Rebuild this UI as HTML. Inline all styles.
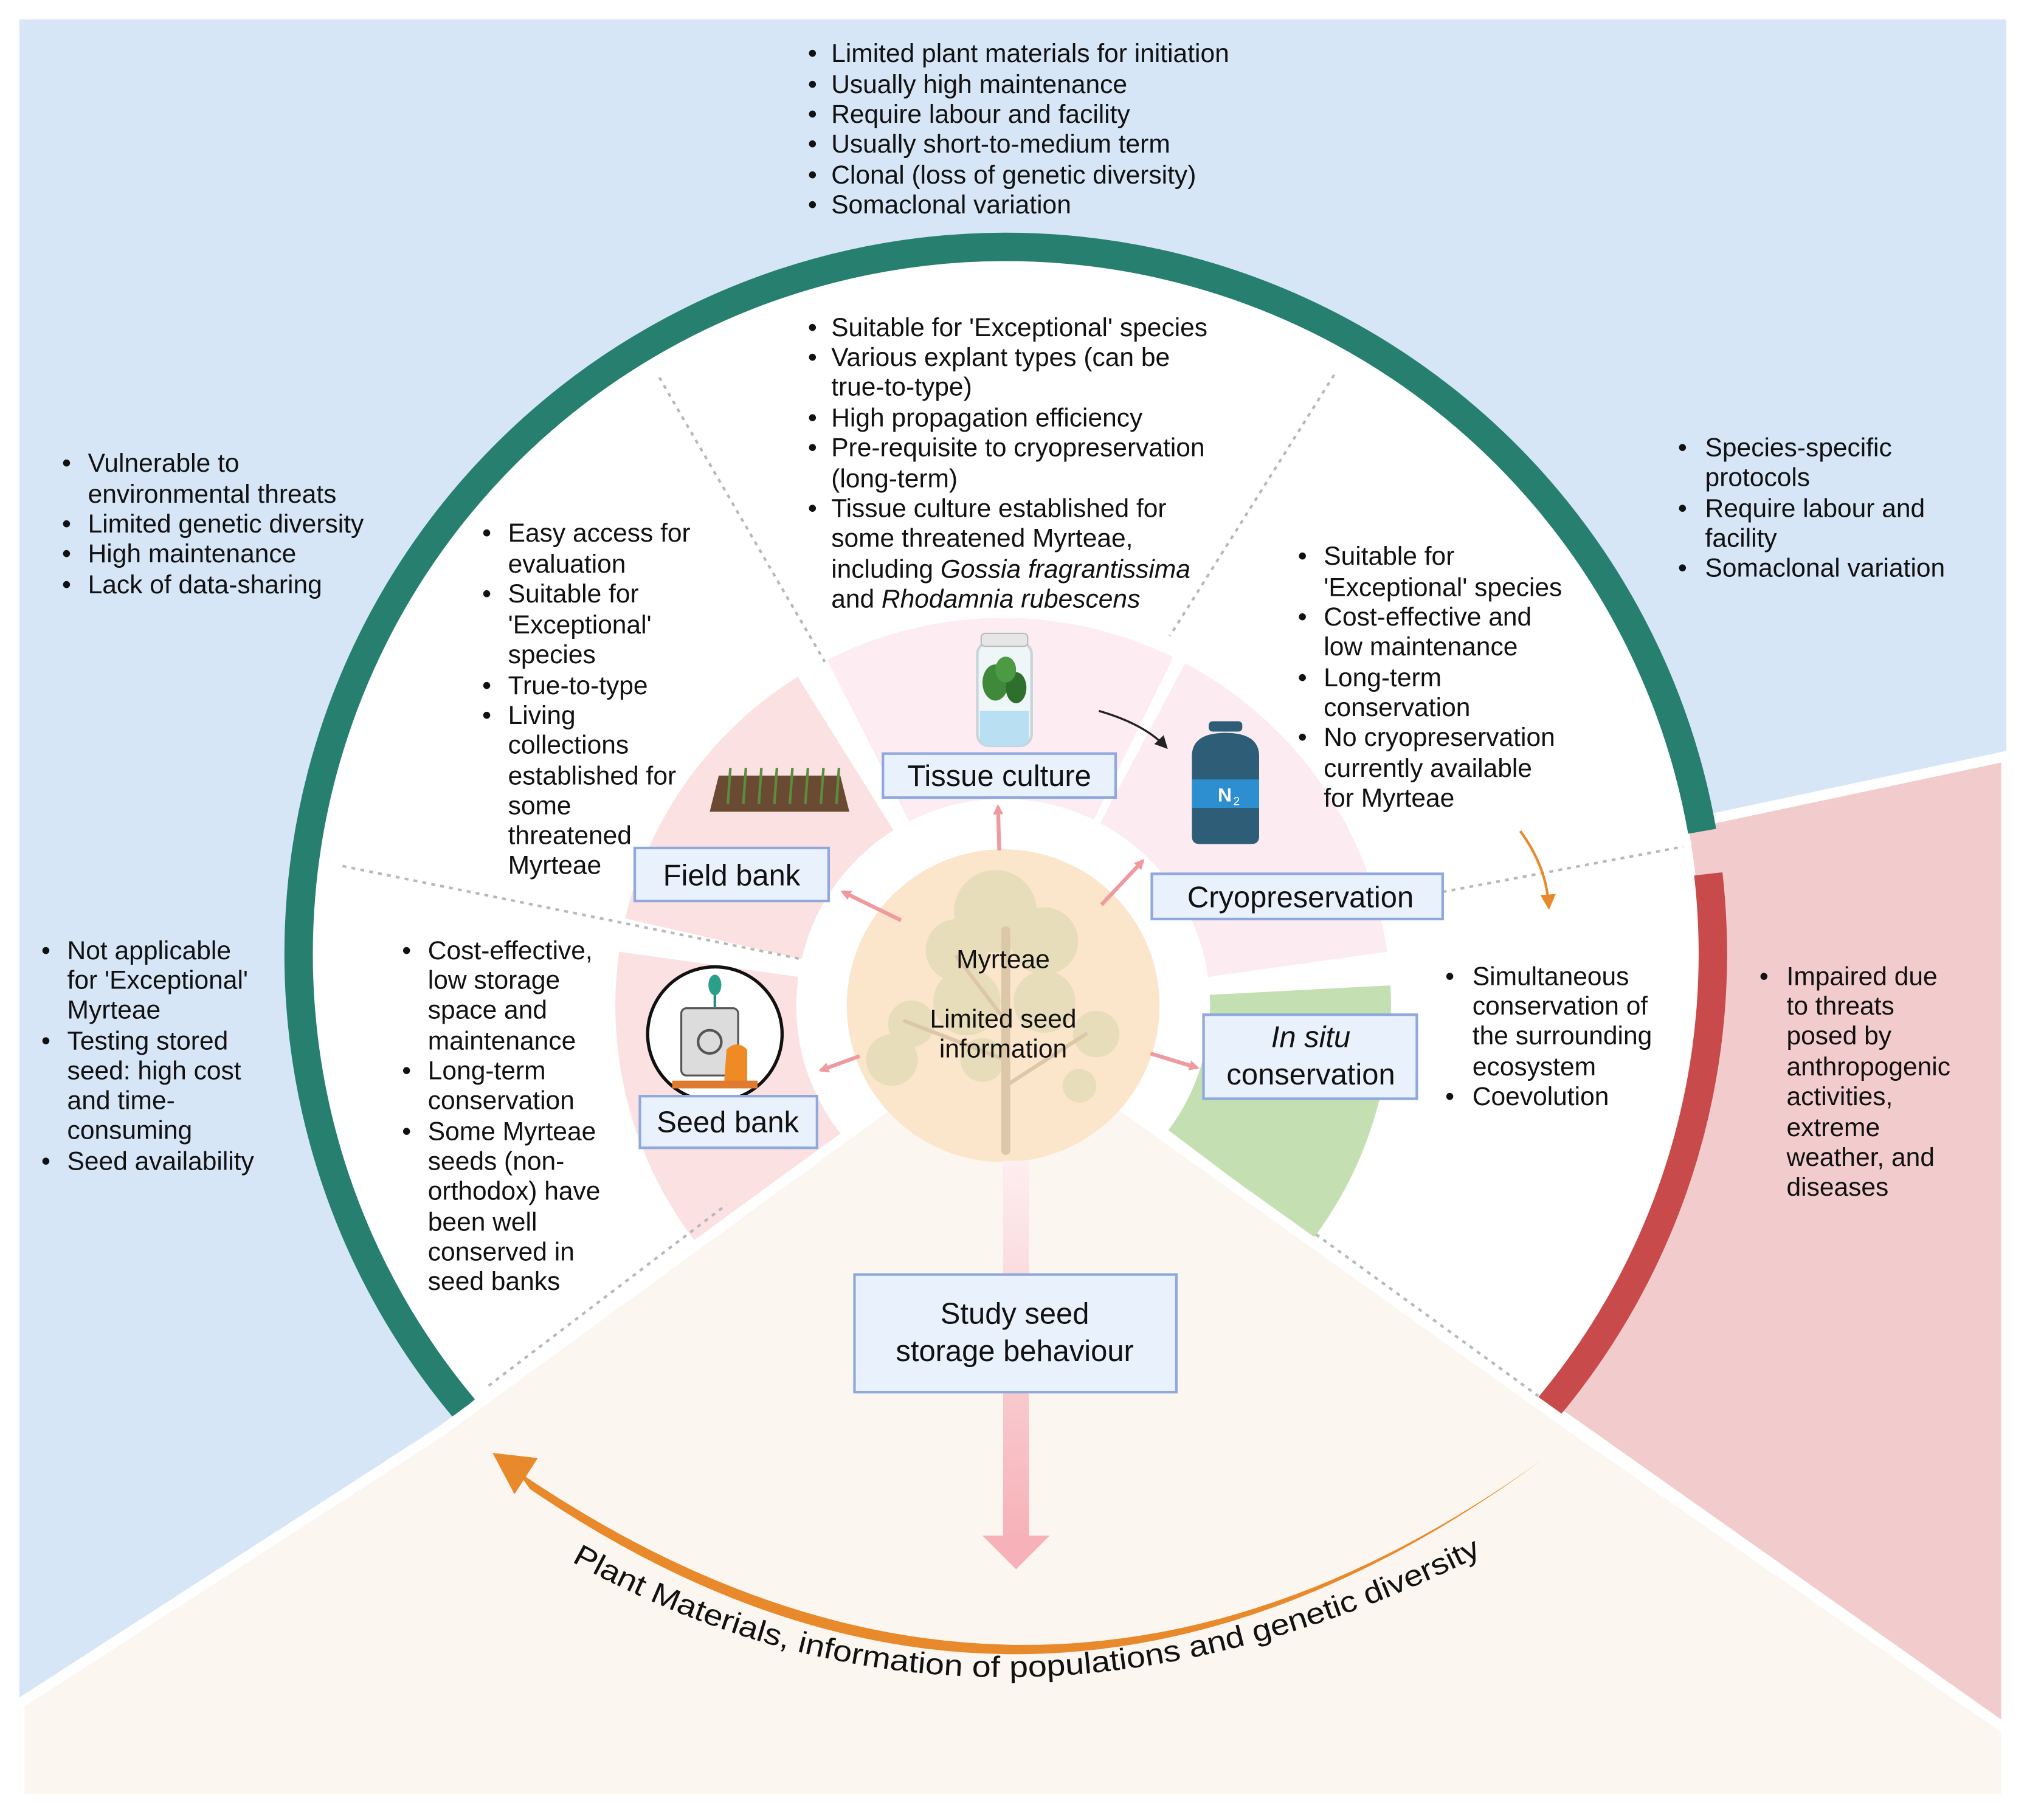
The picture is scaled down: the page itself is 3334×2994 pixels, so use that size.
<!DOCTYPE html>
<html><head><meta charset="utf-8"><style>
html,body{margin:0;padding:0;background:#fff;overflow:hidden;width:3334px;height:2994px}
svg{display:block}
.t{font-family:"Liberation Sans",sans-serif;font-size:20px;fill:#111}
.lab{font-family:"Liberation Sans",sans-serif;font-size:23px;fill:#111}
</style></head><body>
<svg width="3334" height="2994" viewBox="0 0 1568 1408" preserveAspectRatio="none" xmlns="http://www.w3.org/2000/svg">
<defs>
<linearGradient id="dg" x1="0" y1="0" x2="0" y2="1"><stop offset="0" stop-color="#fdeef0"/><stop offset="1" stop-color="#f6b2b8"/></linearGradient>
<marker id="pa" markerWidth="8" markerHeight="8" refX="6" refY="4" orient="auto" markerUnits="userSpaceOnUse"><path d="M0,0 L8,4 L0,8 Z" fill="#ef9a9f"/></marker>
<marker id="ka" markerWidth="10" markerHeight="10" refX="8" refY="5" orient="auto" markerUnits="userSpaceOnUse"><path d="M0,0 L10,5 L0,10 Z" fill="#222"/></marker>
<marker id="oa" markerWidth="12" markerHeight="12" refX="8" refY="6" orient="auto" markerUnits="userSpaceOnUse"><path d="M0,0 L12,6 L0,12 Z" fill="#e8892b"/></marker>
</defs>
<rect x="0" y="0" width="1568" height="1408" fill="#fff"/>
<rect x="15" y="15" width="1537" height="1377" fill="#d6e6f7"/>
<polygon points="776,750 1552,585 1552,1338 776,790" fill="#f2cccc" stroke="#fff" stroke-width="8"/>
<circle cx="778" cy="738" r="537" fill="#fff"/>
<circle cx="778" cy="738" r="547" fill="none" stroke="#27806f" stroke-width="22" stroke-dasharray="2004.9 9999" transform="rotate(140 778 738)"/>
<circle cx="778" cy="738" r="547" fill="none" stroke="#c94a4a" stroke-width="22" stroke-dasharray="444 9999" transform="rotate(-6.5 778 738)"/>
<g fill="none" stroke-width="140">
<circle cx="776" cy="778" r="230" stroke="#fbe1e1" stroke-dasharray="204.7 9999" transform="rotate(137 776 778)"/>
<circle cx="776" cy="778" r="230" stroke="#fbe1e1" stroke-dasharray="180.6 9999" transform="rotate(193 776 778)"/>
<circle cx="776" cy="778" r="230" stroke="#fdecf2" stroke-dasharray="212.7 9999" transform="rotate(243 776 778)"/>
<circle cx="776" cy="778" r="230" stroke="#fdebf2" stroke-dasharray="216.8 9999" transform="rotate(298 776 778)"/>
<circle cx="776" cy="778" r="230" stroke="#c4e0b2" stroke-dasharray="160.6 9999" transform="rotate(-3 776 778)"/>
</g>
<polygon points="776,790 340,1108 15,1318 15,1392 1552,1392 1552,1338 1210,1100" fill="#fbf6ef" stroke="#fff" stroke-width="8"/>
<g stroke="#b8b8b8" stroke-width="2" stroke-dasharray="3 4" fill="none">
<line x1="510" y1="292" x2="638" y2="512"/>
<line x1="1032" y1="290" x2="905" y2="492"/>
<line x1="265" y1="670" x2="620" y2="742"/>
<line x1="1116" y1="690" x2="1302" y2="655"/>
<line x1="378" y1="1072" x2="562" y2="932"/>
<line x1="1018" y1="955" x2="1190" y2="1080"/>
</g>
<circle cx="776" cy="778" r="121" fill="#fbe6cc"/>
<g fill="#e2dbb4" opacity="0.75">
<circle cx="770" cy="705" r="32"/><circle cx="740" cy="735" r="24"/><circle cx="808" cy="728" r="26"/>
<circle cx="748" cy="775" r="26"/><circle cx="808" cy="775" r="24"/><circle cx="705" cy="792" r="18"/>
<circle cx="690" cy="820" r="20"/><circle cx="848" cy="800" r="18"/><circle cx="835" cy="840" r="13"/><circle cx="760" cy="820" r="17"/>
</g>
<g stroke="#dcc8a8" fill="none" stroke-linecap="round">
<line x1="778" y1="890" x2="778" y2="720" stroke-width="7"/>
<line x1="778" y1="820" x2="700" y2="790" stroke-width="3"/>
<line x1="778" y1="840" x2="840" y2="800" stroke-width="3"/>
<line x1="778" y1="790" x2="740" y2="740" stroke-width="3"/>
</g>
<text class="t" x="776" y="749" text-anchor="middle">Myrteae</text>
<text class="t" x="776" y="795" text-anchor="middle">Limited seed</text>
<text class="t" x="776" y="818" text-anchor="middle">information</text>
<g stroke="#ef9a9f" stroke-width="3" marker-end="url(#pa)">
<line x1="773" y1="658" x2="772" y2="624"/>
<line x1="697" y1="712" x2="652" y2="690"/>
<line x1="852" y1="700" x2="884" y2="666"/>
<line x1="665" y1="817" x2="635" y2="828"/>
<line x1="890" y1="815" x2="926" y2="826"/>
</g>
<rect x="776" y="898" width="20" height="292" fill="url(#dg)"/>
<polygon points="760,1188 812,1188 786,1214" fill="#f6b2b8"/>
<g>
<rect x="756" y="497" width="42" height="80" rx="9" fill="#eef6f8" stroke="#c8d4d8" stroke-width="2"/>
<rect x="759" y="490" width="36" height="10" rx="3" fill="#e6e6e6" stroke="#bbb"/>
<path d="M758,550 h38 v20 q0,7 -8,7 h-22 q-8,0 -8,-7 z" fill="#b8e0f2"/>
<ellipse cx="770" cy="528" rx="10" ry="14" fill="#3f8a3a"/><ellipse cx="786" cy="532" rx="8" ry="12" fill="#2f6f2e"/><ellipse cx="778" cy="518" rx="8" ry="10" fill="#4c9a44"/>
</g>
<g>
<polygon points="549,628 657,628 650,600 556,600" fill="#6b4a34"/>
<g stroke="#5a8d3c" stroke-width="2">
<line x1="563" y1="622" x2="565" y2="594"/><line x1="575" y1="622" x2="577" y2="594"/><line x1="587" y1="622" x2="589" y2="594"/><line x1="599" y1="622" x2="601" y2="594"/><line x1="611" y1="622" x2="613" y2="594"/><line x1="623" y1="622" x2="625" y2="594"/><line x1="635" y1="622" x2="637" y2="594"/><line x1="647" y1="622" x2="649" y2="594"/>
</g>
</g>
<g>
<rect x="935" y="558" width="26" height="8" rx="3" fill="#2e5d78"/>
<path d="M922,585 q0,-18 26,-18 q26,0 26,18 v62 q0,6 -6,6 h-40 q-6,0 -6,-6 z" fill="#2e5d78"/>
<rect x="922" y="603" width="52" height="22" fill="#2d8fcf"/>
<text x="942" y="620" font-family="Liberation Sans,sans-serif" font-size="15" font-weight="bold" fill="#fff">N</text><text x="954" y="623" font-family="Liberation Sans,sans-serif" font-size="9" fill="#fff">2</text>
</g>
<g>
<circle cx="553" cy="800" r="52" fill="#fff" stroke="#111" stroke-width="2.5"/>
<rect x="527" y="780" width="44" height="52" rx="4" fill="#dcdcdc" stroke="#555" stroke-width="1.5"/>
<circle cx="549" cy="806" r="9" fill="none" stroke="#555" stroke-width="2"/>
<path d="M562,812 q8,-8 16,0 v28 h-18 z" fill="#f08a24"/>
<rect x="520" y="836" width="66" height="6" fill="#e07a30"/>
<line x1="553" y1="780" x2="553" y2="766" stroke="#2a8a7a" stroke-width="2"/>
<ellipse cx="553" cy="762" rx="5" ry="8" fill="#2aa08a"/>
</g>
<path d="M850,550 Q885,560 902,578" fill="none" stroke="#222" stroke-width="1.6" marker-end="url(#ka)"/>
<path d="M1176,643 Q1196,670 1198,700" fill="none" stroke="#e8892b" stroke-width="2" marker-end="url(#oa)"/>
<path d="M1192,1130 Q800,1418 410,1152 L400,1138 Q800,1411 1192,1130 Z" fill="#e8892b"/>
<polygon points="381,1124 416,1128 398,1156" fill="#e8892b"/>
<path id="cp" d="M442,1208 Q790,1400 1190,1180" fill="none"/>
<text font-family="Liberation Sans,sans-serif" font-size="23" fill="#111"><textPath href="#cp" textLength="735" lengthAdjust="spacingAndGlyphs">Plant Materials, information of populations and genetic diversity</textPath></text>
<g fill="#e9f1fc" stroke="#8fa9dd" stroke-width="2">
<rect x="683" y="583" width="180" height="34"/>
<rect x="491" y="656" width="150" height="41"/>
<rect x="891" y="676" width="225" height="35"/>
<rect x="931" y="785" width="165" height="65"/>
<rect x="495" y="848" width="137" height="40"/>
<rect x="661" y="986" width="249" height="91"/>
</g>
<text class="lab" x="773" y="608" text-anchor="middle">Tissue culture</text>
<text class="lab" x="566" y="685" text-anchor="middle">Field bank</text>
<text class="lab" x="1006" y="702" text-anchor="middle">Cryopreservation</text>
<text class="lab" x="1014" y="810" text-anchor="middle" font-style="italic">In situ</text>
<text class="lab" x="1014" y="839" text-anchor="middle">conservation</text>
<text class="lab" x="563" y="876" text-anchor="middle">Seed bank</text>
<text class="lab" x="785" y="1024" text-anchor="middle">Study seed</text>
<text class="lab" x="785" y="1053" text-anchor="middle">storage behaviour</text>
<g class="t">
<text x="625" y="48">•</text><text x="643" y="48">Limited plant materials for initiation</text>
<text x="625" y="72">•</text><text x="643" y="72">Usually high maintenance</text>
<text x="625" y="95">•</text><text x="643" y="95">Require labour and facility</text>
<text x="625" y="118">•</text><text x="643" y="118">Usually short-to-medium term</text>
<text x="625" y="142">•</text><text x="643" y="142">Clonal  (loss of genetic diversity)</text>
<text x="625" y="165">•</text><text x="643" y="165">Somaclonal variation</text>
</g>
<g class="t">
<text x="625" y="260">•</text><text x="643" y="260">Suitable for 'Exceptional' species</text>
<text x="625" y="283">•</text><text x="643" y="283">Various explant types (can be</text>
<text x="643" y="306">true-to-type)</text>
<text x="625" y="330">•</text><text x="643" y="330">High propagation efficiency</text>
<text x="625" y="353">•</text><text x="643" y="353">Pre-requisite to cryopreservation</text>
<text x="643" y="377">(long-term)</text>
<text x="625" y="400">•</text><text x="643" y="400">Tissue culture  established for</text>
<text x="643" y="423">some threatened Myrteae,</text>
<text x="643" y="447">including <tspan font-style="italic">Gossia fragrantissima</tspan></text>
<text x="643" y="470">and <tspan font-style="italic">Rhodamnia rubescens</tspan></text>
</g>
<g class="t">
<text x="48" y="365">•</text><text x="68" y="365">Vulnerable to</text>
<text x="68" y="389">environmental threats</text>
<text x="48" y="412">•</text><text x="68" y="412">Limited genetic diversity</text>
<text x="48" y="435">•</text><text x="68" y="435">High maintenance</text>
<text x="48" y="459">•</text><text x="68" y="459">Lack of data-sharing</text>
</g>
<g class="t">
<text x="373" y="419">•</text><text x="393" y="419">Easy access for</text>
<text x="393" y="443">evaluation</text>
<text x="373" y="466">•</text><text x="393" y="466">Suitable for</text>
<text x="393" y="490">'Exceptional'</text>
<text x="393" y="513">species</text>
<text x="373" y="537">•</text><text x="393" y="537">True-to-type</text>
<text x="373" y="560">•</text><text x="393" y="560">Living</text>
<text x="393" y="583">collections</text>
<text x="393" y="607">established for</text>
<text x="393" y="630">some</text>
<text x="393" y="653">threatened</text>
<text x="393" y="676">Myrteae</text>
</g>
<g class="t">
<text x="1004" y="437">•</text><text x="1024" y="437">Suitable for</text>
<text x="1024" y="461">'Exceptional' species</text>
<text x="1004" y="484">•</text><text x="1024" y="484">Cost-effective and</text>
<text x="1024" y="507">low maintenance</text>
<text x="1004" y="531">•</text><text x="1024" y="531">Long-term</text>
<text x="1024" y="554">conservation</text>
<text x="1004" y="577">•</text><text x="1024" y="577">No cryopreservation</text>
<text x="1024" y="601">currently available</text>
<text x="1024" y="624">for Myrteae</text>
</g>
<g class="t">
<text x="1298" y="353">•</text><text x="1319" y="353">Species-specific</text>
<text x="1319" y="376">protocols</text>
<text x="1298" y="400">•</text><text x="1319" y="400">Require labour and</text>
<text x="1319" y="423">facility</text>
<text x="1298" y="446">•</text><text x="1319" y="446">Somaclonal variation</text>
</g>
<g class="t">
<text x="32" y="742">•</text><text x="52" y="742">Not applicable</text>
<text x="52" y="765">for 'Exceptional'</text>
<text x="52" y="788">Myrteae</text>
<text x="32" y="812">•</text><text x="52" y="812">Testing stored</text>
<text x="52" y="835">seed: high cost</text>
<text x="52" y="858">and time-</text>
<text x="52" y="881">consuming</text>
<text x="32" y="905">•</text><text x="52" y="905">Seed availability</text>
</g>
<g class="t">
<text x="311" y="742">•</text><text x="331" y="742">Cost-effective,</text>
<text x="331" y="765">low storage</text>
<text x="331" y="788">space and</text>
<text x="331" y="812">maintenance</text>
<text x="311" y="835">•</text><text x="331" y="835">Long-term</text>
<text x="331" y="858">conservation</text>
<text x="311" y="882">•</text><text x="331" y="882">Some Myrteae</text>
<text x="331" y="905">seeds (non-</text>
<text x="331" y="928">orthodox) have</text>
<text x="331" y="952">been well</text>
<text x="331" y="975">conserved in</text>
<text x="331" y="998">seed banks</text>
</g>
<g class="t">
<text x="1118" y="762">•</text><text x="1139" y="762">Simultaneous</text>
<text x="1139" y="785">conservation of</text>
<text x="1139" y="808">the surrounding</text>
<text x="1139" y="832">ecosystem</text>
<text x="1118" y="855">•</text><text x="1139" y="855">Coevolution</text>
</g>
<g class="t">
<text x="1361" y="762">•</text><text x="1382" y="762">Impaired due</text>
<text x="1382" y="785">to threats</text>
<text x="1382" y="808">posed by</text>
<text x="1382" y="832">anthropogenic</text>
<text x="1382" y="855">activities,</text>
<text x="1382" y="879">extreme</text>
<text x="1382" y="902">weather, and</text>
<text x="1382" y="925">diseases</text>
</g>
</svg>
</body></html>
